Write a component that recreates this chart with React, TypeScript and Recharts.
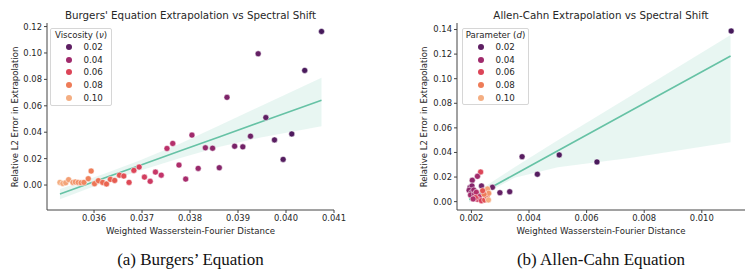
import React from 'react';
import { ComposedChart, Scatter, Line, Area, XAxis, YAxis, Cell } from 'recharts';

// Burgers: points (x = weighted WF distance, y = rel. L2 error, nu = viscosity)
const burgersX = [0.03529, 0.03535, 0.03541, 0.03547, 0.03556, 0.03561, 0.03567, 0.03573, 0.03579, 0.03588, 0.03594, 0.03601, 0.03609, 0.03618, 0.03626, 0.03634, 0.03643, 0.03653, 0.03662, 0.03673, 0.03683, 0.03694, 0.03705, 0.03717, 0.03728, 0.0374, 0.03752, 0.03764, 0.03777, 0.03791, 0.03804, 0.03817, 0.03832, 0.03847, 0.03861, 0.03877, 0.03893, 0.0391, 0.03926, 0.03942, 0.03958, 0.03976, 0.03994, 0.04012, 0.04039, 0.04074];
const burgersY = [0.002, 0.0012, 0.0017, 0.0041, 0.002, 0.0023, 0.002, 0.0017, 0.002, 0.0048, 0.0106, 0.001, 0.0033, 0.002, 0.0008, 0.0043, 0.0035, 0.0075, 0.0068, 0.002, 0.0111, 0.0136, 0.006, 0.0028, 0.0098, 0.0075, 0.0277, 0.0315, 0.0151, 0.0045, 0.0378, 0.0126, 0.0282, 0.0279, 0.0131, 0.0664, 0.0294, 0.0289, 0.037, 0.0994, 0.0511, 0.0342, 0.0194, 0.0387, 0.0868, 0.1163];
const burgersNu = [0.1, 0.098, 0.096, 0.094, 0.092, 0.09, 0.088, 0.086, 0.084, 0.082, 0.08, 0.078, 0.076, 0.074, 0.072, 0.07, 0.068, 0.066, 0.064, 0.062, 0.06, 0.058, 0.056, 0.054, 0.052, 0.05, 0.048, 0.046, 0.044, 0.042, 0.04, 0.038, 0.036, 0.034, 0.032, 0.03, 0.028, 0.026, 0.024, 0.022, 0.02, 0.018, 0.016, 0.014, 0.012, 0.01];

// Burgers regression fit + CI band
const burgersFitX = [0.03529, 0.0362, 0.03695, 0.0378, 0.03862, 0.0395, 0.04074];
const burgersFit = [-0.0068, 0.0051, 0.0148, 0.0259, 0.0366, 0.0481, 0.0642];
const burgersLo = [-0.0108, 0.0018, 0.0108, 0.0204, 0.0289, 0.0362, 0.0445];
const burgersHi = [-0.003, 0.0084, 0.0185, 0.0314, 0.0453, 0.0602, 0.0813];

// Allen-Cahn points
const acX = [0.01102, 0.00636, 0.00505, 0.00429, 0.00376, 0.00333, 0.00299, 0.00273, 0.00235, 0.00232, 0.00221, 0.00203, 0.00195, 0.00202, 0.00192, 0.002, 0.00208, 0.00197, 0.00211, 0.00217, 0.00228, 0.00221, 0.00235, 0.00246, 0.00254, 0.00251, 0.00256, 0.0026, 0.00259, 0.00244, 0.00239, 0.00214, 0.00206];
const acY = [0.1388, 0.0323, 0.038, 0.0223, 0.0366, 0.0081, 0.0073, 0.0117, 0.0128, 0.0241, 0.0206, 0.0174, 0.0114, 0.0128, 0.0093, 0.0073, 0.0095, 0.0054, 0.006, 0.0076, 0.0041, 0.002, 0.0008, 0.0014, 0.0041, 0.0081, 0.0103, 0.0068, 0.0014, 0.006, 0.0089, 0.0033, 0.0022];
const acD = [0.01, 0.012, 0.014, 0.016, 0.018, 0.02, 0.022, 0.024, 0.026, 0.06, 0.04, 0.035, 0.03, 0.032, 0.034, 0.036, 0.038, 0.04, 0.042, 0.046, 0.05, 0.054, 0.058, 0.064, 0.07, 0.076, 0.096, 0.09, 0.1, 0.08, 0.066, 0.06, 0.044];

const acFitX = [0.00192, 0.0035, 0.005, 0.0075, 0.011];
const acFit = [0.0018, 0.0221, 0.0414, 0.0735, 0.1185];
const acLo = [-0.0005, 0.0195, 0.028, 0.0355, 0.0483];
const acHi = [0.004, 0.028, 0.05, 0.0855, 0.1355];

const legendValues = [0.02, 0.04, 0.06, 0.08, 0.1];

const PALETTE: [number, string][] = [
  [0.01, '#45195a'], [0.02, '#5e1f63'], [0.03, '#7e2469'], [0.04, '#a02a6c'], [0.05, '#c2336a'],
  [0.06, '#dc4558'], [0.07, '#e8604f'], [0.08, '#ee7c58'], [0.09, '#f2956a'], [0.1, '#f4ae82'],
];

const hex = (c: string) => [1, 3, 5].map((i) => parseInt(c.slice(i, i + 2), 16));
const colorFor = (v: number) => {
  if (v <= PALETTE[0][0]) return PALETTE[0][1];
  for (let i = 1; i < PALETTE.length; i++) {
    const [v1, c1] = PALETTE[i];
    if (v <= v1) {
      const [v0, c0] = PALETTE[i - 1];
      const t = (v - v0) / (v1 - v0);
      const a = hex(c0), b = hex(c1);
      return `rgb(${a.map((x, k) => Math.round(x + (b[k] - x) * t)).join(',')})`;
    }
  }
  return PALETTE[PALETTE.length - 1][1];
};

const FONT = '"DejaVu Sans", sans-serif';
const TXT = '#262626';
const GREEN = '#66c2a5';

const Dot = (props: any) => (
  <circle cx={props.cx} cy={props.cy} r={3} fill={props.fill} stroke="#fff" strokeWidth={0.5} />
);

interface PanelProps {
  left: number;
  xs: number[]; ys: number[]; hue: number[];
  fitX: number[]; fit: number[]; lo: number[]; hi: number[];
  xDomain: [number, number]; yDomain: [number, number];
  xTicks: number[]; yTicks: number[];
  yAxisWidth: number; marginRight: number;
  title: string; hueName: string; hueSym: string;
  legendBox: { x: number; y: number; w: number; h: number };
  caption: string; ylabelX: number;
}

const Panel: React.FC<PanelProps> = (p) => {
  const points = p.xs.map((x, i) => ({ x, y: p.ys[i], v: p.hue[i] }));
  const band = p.fitX.map((x, i) => ({ x, fit: p.fit[i], band: [p.lo[i], p.hi[i]] }));
  const tick = { fontSize: 8.4, fill: TXT, fontFamily: FONT };
  const plotW = 374 - p.marginRight - p.yAxisWidth;
  return (
    <div style={{ position: 'absolute', left: p.left, top: 0, width: 374, height: 278 }}>
      <ComposedChart width={374} height={245} data={band} margin={{ top: 23, right: p.marginRight, bottom: 0, left: 0 }}>
        <XAxis
          dataKey="x" type="number" domain={p.xDomain} ticks={p.xTicks} allowDataOverflow
          tickFormatter={(v) => v.toFixed(3)} tick={tick} tickSize={3} tickMargin={2.5} height={35}
          axisLine={{ stroke: '#444', strokeWidth: 1 }} tickLine={{ stroke: '#444' }}
          label={{ value: 'Weighted Wasserstein-Fourier Distance', position: 'insideBottom', offset: 11, style: { fontSize: 8.6, fill: TXT, fontFamily: FONT } }}
        />
        <YAxis
          type="number" domain={p.yDomain} ticks={p.yTicks} allowDataOverflow width={p.yAxisWidth}
          tickFormatter={(v) => v.toFixed(2)} tick={tick} tickSize={3} tickMargin={2}
          axisLine={{ stroke: '#444', strokeWidth: 1 }} tickLine={{ stroke: '#444' }}
        />
        <Scatter data={points} dataKey="y" shape={Dot} isAnimationActive={false}>
          {points.map((d, i) => <Cell key={i} fill={colorFor(d.v)} />)}
        </Scatter>
        <Area dataKey="band" type="linear" stroke="none" fill={GREEN} fillOpacity={0.15} isAnimationActive={false} />
        <Line dataKey="fit" type="linear" stroke={GREEN} strokeWidth={1.6} dot={false} isAnimationActive={false} />
      </ComposedChart>
      <div style={{ position: 'absolute', left: p.yAxisWidth, width: plotW, top: 8.5, textAlign: 'center', fontFamily: FONT, fontSize: 10.3, color: TXT, whiteSpace: 'nowrap' }}>
        {p.title}
      </div>
      <div style={{ position: 'absolute', left: p.ylabelX, top: 116.5, transform: 'translate(-50%, -50%) rotate(-90deg)', fontFamily: FONT, fontSize: 8.5, color: TXT, whiteSpace: 'nowrap' }}>
        Relative L2 Error in Extrapolation
      </div>
      <div style={{ position: 'absolute', left: p.legendBox.x, top: p.legendBox.y, width: p.legendBox.w, height: p.legendBox.h, border: '1px solid #d6d6d6', borderRadius: 2, background: 'rgba(255,255,255,0.8)', boxSizing: 'border-box', fontFamily: FONT, color: TXT }}>
        <div style={{ textAlign: 'center', fontSize: 8.6, marginTop: 1, lineHeight: '11px', whiteSpace: 'nowrap' }}>
          {p.hueName} (<i>{p.hueSym}</i>)
        </div>
        {legendValues.map((v) => (
          <div key={v} style={{ display: 'flex', alignItems: 'center', height: 12.6, fontSize: 8.7 }}>
            <span style={{ display: 'inline-block', width: 6, height: 6, borderRadius: '50%', background: colorFor(v), marginLeft: 14.5, marginRight: 12 }} />
            {v.toFixed(2)}
          </div>
        ))}
      </div>
      <div style={{ position: 'absolute', left: p.yAxisWidth, width: plotW, top: 250, textAlign: 'center', fontFamily: '"Liberation Serif", serif', fontSize: 17, color: '#111', whiteSpace: 'nowrap' }}>
        {p.caption}
      </div>
    </div>
  );
};

const App: React.FC = () => (
  <div style={{ position: 'absolute', left: 0, top: 0, width: 748, height: 278, background: '#fff', overflow: 'hidden' }}>
    <Panel
      left={0}
      xs={burgersX} ys={burgersY} hue={burgersNu}
      fitX={burgersFitX} fit={burgersFit} lo={burgersLo} hi={burgersHi}
      xDomain={[0.03502, 0.041]} yDomain={[-0.0189, 0.1227]}
      xTicks={[0.036, 0.037, 0.038, 0.039, 0.04, 0.041]} yTicks={[0, 0.02, 0.04, 0.06, 0.08, 0.1, 0.12]}
      yAxisWidth={47} marginRight={40}
      title="Burgers' Equation Extrapolation vs Spectral Shift" hueName="Viscosity" hueSym="ν"
      legendBox={{ x: 50, y: 28, w: 62, h: 78 }}
      caption="(a) Burgers’ Equation" ylabelX={15}
    />
    <Panel
      left={374}
      xs={acX} ys={acY} hue={acD}
      fitX={acFitX} fit={acFit} lo={acLo} hi={acHi}
      xDomain={[0.0015, 0.0115]} yDomain={[-0.0068, 0.1453]}
      xTicks={[0.002, 0.004, 0.006, 0.008, 0.01]} yTicks={[0, 0.02, 0.04, 0.06, 0.08, 0.1, 0.12, 0.14]}
      yAxisWidth={83} marginRight={3}
      title="Allen-Cahn Extrapolation vs Spectral Shift" hueName="Parameter" hueSym="d"
      legendBox={{ x: 88, y: 28, w: 67, h: 77 }}
      caption="(b) Allen-Cahn Equation" ylabelX={50}
    />
  </div>
);

export default App;
